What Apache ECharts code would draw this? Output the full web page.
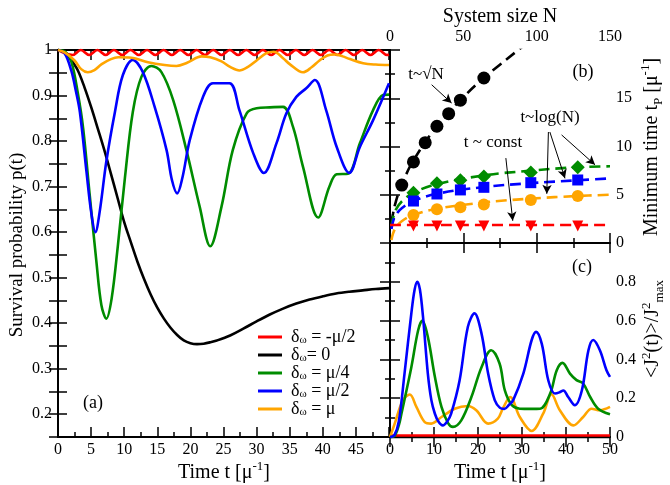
<!DOCTYPE html>
<html><head><meta charset="utf-8">
<script src="https://cdn.jsdelivr.net/npm/echarts@6/dist/echarts.min.js"></script>
<style>html,body{margin:0;padding:0;background:#fff}#c{width:670px;height:485px}</style>
</head><body><div id="c"></div>
<script>
const FONT = '"Liberation Serif", "DejaVu Serif", "Times New Roman", serif';
const COLORS = {red:'#ff0000', black:'#000000', green:'#008c00', blue:'#0000ff', orange:'#ffa500'};
const legendNames = ['-μ/2', '0', 'μ/4', 'μ/2', 'μ'];

// ---------- Panel (a): survival probability p(t) vs t ----------
const redA = [[0,1],[2.2,0.989],[3.45,1],[4.7,0.989],[5.95,1],[7.2,0.989],[8.45,1],[9.7,0.989],[10.95,1],[12.2,0.989],[13.45,1],[14.7,0.989],[15.95,1],[17.2,0.989],[18.45,1],[19.7,0.989],[20.95,1],[22.2,0.989],[23.45,1],[24.7,0.989],[25.95,1],[27.2,0.989],[28.45,1],[29.7,0.989],[30.95,1],[32.2,0.989],[33.45,1],[34.7,0.989],[35.95,1],[37.2,0.989],[38.45,1],[39.7,0.989],[40.95,1],[42.2,0.989],[43.45,1],[44.7,0.989],[45.95,1],[47.2,0.989],[48.45,1],[49.7,0.989],[50,0.99]];
const blackA = [[0,1],[1,0.995],[2,0.978],[3,0.955],[4,0.918],[5,0.875],[6,0.828],[7,0.78],[8,0.728],[9,0.675],[10,0.622],[11,0.578],[12,0.535],[13,0.497],[14,0.463],[15,0.434],[16,0.41],[17,0.39],[18,0.374],[19,0.362],[20,0.356],[21,0.354],[22,0.355],[23,0.358],[24,0.362],[26,0.373],[28,0.388],[30,0.404],[32,0.419],[34,0.432],[36,0.443],[38,0.452],[40,0.459],[42,0.465],[44,0.469],[46,0.472],[48,0.475],[50,0.477]];
const greenA = [[0,1],[1,0.997],[2,0.975],[3,0.905],[3.8,0.828],[4.8,0.68],[5.8,0.535],[6.55,0.44],[7.3,0.41],[8.1,0.454],[9.05,0.571],[10.1,0.718],[11.3,0.864],[12.6,0.941],[14.1,0.965],[15.6,0.952],[17.4,0.89],[19.4,0.78],[21.4,0.656],[23,0.569],[24.7,0.656],[26.4,0.78],[28.5,0.861],[30,0.872],[32,0.874],[34,0.875],[35.5,0.831],[37,0.744],[39.3,0.632],[41,0.70],[42.1,0.727],[43.8,0.728],[45.6,0.795],[47.6,0.868],[49.1,0.901],[50,0.902]];
const blueA = [[0,1],[1,0.993],[2,0.955],[2.7,0.91],[3.3,0.864],[4.3,0.733],[5.0,0.645],[5.65,0.60],[6.3,0.645],[7.3,0.755],[8.6,0.864],[9.8,0.945],[11.3,0.978],[12.8,0.952],[14.6,0.875],[16.4,0.78],[17.2,0.715],[18,0.685],[18.8,0.72],[19.9,0.802],[21.9,0.897],[23.4,0.927],[25.9,0.927],[27.4,0.868],[29.5,0.773],[31.1,0.73],[33,0.795],[34.5,0.861],[36,0.897],[37.5,0.916],[38.8,0.934],[40.5,0.868],[42.1,0.787],[44,0.73],[45.6,0.787],[47.6,0.846],[50,0.927]];
const orangeA = [[0,1],[1,0.995],[2.5,0.977],[3.5,0.958],[4.5,0.951],[5.5,0.956],[6.6,0.969],[8,0.98],[9.1,0.984],[11.1,0.983],[13.6,0.973],[16.1,0.967],[17.9,0.965],[19.5,0.972],[21.7,0.986],[23,0.984],[24.7,0.975],[26,0.963],[27.4,0.955],[28.7,0.963],[30,0.977],[31.5,0.993],[32.6,0.996],[34,0.982],[35,0.969],[37,0.951],[38.3,0.962],[39.5,0.977],[40.7,0.988],[41.8,0.99],[43,0.986],[44.1,0.98],[46.1,0.971],[48,0.968],[50,0.967]];

// ---------- Panel (b): minimum time t_P vs system size N ----------
const sizesSqrt = [8, 16, 24, 32, 40, 48, 64];
const blackB = [6.0, 8.4, 10.4, 12.1, 13.4, 14.8, 17.1];
const sizesLog = [16, 32, 48, 64, 96, 128];
const greenB = [5.2, 6.2, 6.5, 6.9, 7.3, 7.85];
const blueB = [4.35, 5.08, 5.5, 5.77, 6.25, 6.53];
const orangeB = [2.9, 3.49, 3.7, 4.0, 4.46, 4.87];
const redB = [1.75, 1.75, 1.75, 1.75, 1.75, 1.75];
// fitted curves (dashed)
const blackFit = [[1,2.1],[2,3.0],[4,4.3],[8,6.05],[16,8.55],[32,12.1],[48,14.8],[64,17.1],[90,20.3]];
const greenFit = [[1,1.7],[2,2.55],[4,3.45],[8,4.3],[16,5.2],[32,6.1],[64,7.0],[96,7.5],[128,7.85],[150,7.95]];
const blueFit = [[1,1.45],[2,2.2],[4,2.9],[8,3.6],[16,4.35],[32,5.1],[64,5.8],[96,6.2],[128,6.5],[150,6.7]];
const orangeFit = [[1,0.3],[2,0.95],[4,1.6],[8,2.25],[16,2.9],[32,3.55],[64,4.2],[96,4.6],[128,4.87],[150,5.0]];
const redFit = [[0,1.87],[150,1.87]];

// ---------- Panel (c): <J^2(t)>/J^2_max vs t ----------
const blueC = [[0,0],[1,0.01],[2,0.08],[3.3,0.327],[4.85,0.637],[5.6,0.76],[6.2,0.80],[6.8,0.76],[7.5,0.62],[8.6,0.327],[9.4,0.19],[10.2,0.12],[11,0.08],[12,0.06],[13,0.08],[13.9,0.12],[15.8,0.29],[17.7,0.568],[19.2,0.637],[20.8,0.533],[22.3,0.327],[23.8,0.19],[25,0.15],[26,0.145],[27,0.165],[28,0.19],[30.3,0.327],[32.2,0.50],[33.2,0.542],[34.5,0.48],[36,0.29],[37.5,0.224],[38.5,0.23],[39.4,0.24],[40.5,0.206],[42,0.164],[43.6,0.24],[45.1,0.447],[46.2,0.50],[47.7,0.447],[49.2,0.344],[50,0.31]];
const greenC = [[0,0],[1,0.005],[2,0.06],[2.6,0.12],[4.85,0.36],[6.4,0.55],[7.35,0.60],[8.6,0.516],[10.2,0.31],[11.7,0.155],[13.2,0.072],[14.3,0.052],[16.2,0.086],[18.5,0.206],[20.8,0.36],[23,0.447],[24.9,0.379],[26.1,0.24],[27.7,0.164],[29.5,0.146],[32,0.145],[34.1,0.146],[36.4,0.224],[37.9,0.344],[39.2,0.382],[40.9,0.327],[42.4,0.293],[43.9,0.276],[45.5,0.206],[47.3,0.146],[50,0.117]];
const orangeC = [[0,0],[1.07,0.069],[2.95,0.19],[4.5,0.219],[6,0.155],[7.9,0.077],[9.4,0.069],[11.7,0.103],[14.7,0.146],[17.7,0.16],[19.6,0.138],[22.3,0.069],[24.5,0.095],[25.7,0.15],[27.3,0.206],[29.5,0.103],[32.2,0.031],[34.8,0.12],[36.7,0.22],[38.6,0.138],[41.7,0.06],[43.9,0.103],[45.8,0.146],[47.7,0.138],[50,0.155]];
const blackC = [[0,0],[50,0]];
const redC = [[0,0.008],[50,0.008]];

// ---------- tick labels ----------
const ticksA = {xMin:0, xMax:50, xStep:5, yMin:0.15, yMax:1, yStep:0.05};
const ticksB = {xMin:0, xMax:150, xStep:50, yMin:0, yMax:20, yStep:5};
const ticksC = {xMin:0, xMax:50, xStep:10, yMin:0, yMax:1, yStep:0.2};

const chart = echarts.init(document.getElementById('c'), null, {renderer:'canvas'});

const axisLineStyle = {show:true, lineStyle:{color:'#000', width:2}};
function ax(o) {
  return {
    type:'value', gridIndex:o.grid, position:o.pos, min:o.min, max:o.max, interval:o.step,
    splitLine:{show:false},
    axisLine:axisLineStyle,
    axisTick:{show:true, inside:true, length:o.tl || 10, lineStyle:{color:'#000', width:1.5}},
    minorTick:{show:!!o.minor, splitNumber:o.minor || 5, length:o.ml || 5, lineStyle:{color:'#000', width:1.5}},
    axisLabel:{show:!!o.labels, color:'#000', fontFamily:FONT, fontSize:16, margin:o.margin || 6,
      formatter:o.fmt || (v => String(v))},
    name:''
  };
}

const fmtA_y = v => (Math.abs(v*10 - Math.round(v*10)) < 1e-6) ? String(Math.round(v*10)/10) : '';
const fmtA_x = v => (v >= 50 ? '' : String(v));
const fmtB_y = v => (v >= 20 ? '' : String(v));
const fmtC_y = v => (v >= 0.99 ? '' : String(Math.round(v*10)/10));

const xAxis = [
  ax({grid:0,pos:'bottom',min:ticksA.xMin,max:ticksA.xMax,step:ticksA.xStep,minor:2,labels:true,fmt:fmtA_x,margin:5}),
  ax({grid:0,pos:'top',min:ticksA.xMin,max:ticksA.xMax,step:ticksA.xStep,minor:2}),
  ax({grid:1,pos:'top',min:ticksB.xMin,max:ticksB.xMax,step:ticksB.xStep,minor:2,labels:true,margin:5}),
  ax({grid:1,pos:'bottom',min:ticksB.xMin,max:ticksB.xMax,step:ticksB.xStep,minor:2}),
  ax({grid:2,pos:'bottom',min:ticksC.xMin,max:ticksC.xMax,step:ticksC.xStep,minor:2,labels:true,margin:5}),
  ax({grid:2,pos:'top',min:ticksC.xMin,max:ticksC.xMax,step:ticksC.xStep,minor:2})
];
const yAxis = [
  ax({grid:0,pos:'left',min:ticksA.yMin,max:ticksA.yMax,step:ticksA.yStep,labels:true,fmt:fmtA_y,tl:9}),
  ax({grid:0,pos:'right',min:ticksA.yMin,max:ticksA.yMax,step:ticksA.yStep,tl:9}),
  ax({grid:1,pos:'right',min:ticksB.yMin,max:ticksB.yMax,step:ticksB.yStep,minor:2,labels:true,fmt:fmtB_y}),
  ax({grid:1,pos:'left',min:ticksB.yMin,max:ticksB.yMax,step:ticksB.yStep,minor:2}),
  ax({grid:2,pos:'right',min:ticksC.yMin,max:ticksC.yMax,step:ticksC.yStep,minor:2,labels:true,fmt:fmtC_y}),
  ax({grid:2,pos:'left',min:ticksC.yMin,max:ticksC.yMax,step:ticksC.yStep,minor:2})
];

function line(name, data, color, xi, yi, extra) {
  return Object.assign({
    type:'line', name:name, data:data, xAxisIndex:xi, yAxisIndex:yi,
    smooth:0.35, symbol:'none', showSymbol:false, clip:false,
    lineStyle:{color:color, width:2.6}, itemStyle:{color:color}, z:3
  }, extra || {});
}
function dashed(name, data, color) {
  return {type:'line', name:name, data:data, xAxisIndex:2, yAxisIndex:2, smooth:0.4, symbol:'none', showSymbol:false, clip:true,
    lineStyle:{color:color, width:2.6, type:[11,6]}, itemStyle:{color:color}, z:3};
}
function markers(name, xs, ys, color, symbol, size) {
  return {type:'scatter', name:name, data:xs.map((x,i)=>[x, ys[i]]), xAxisIndex:2, yAxisIndex:2,
    symbol:symbol, symbolSize:size, itemStyle:{color:color, opacity:1}, clip:false, z:4};
}

const arrowData = [
  [{coord:[28.4,16.4]},{coord:[42,14.5]}],
  [{coord:[108,11.5]},{coord:[106.9,5.1]}],
  [{coord:[109,11.5]},{coord:[119.3,6.7]}],
  [{coord:[117,11.2]},{coord:[139.8,8.1]}],
  [{coord:[79,8.8]},{coord:[83.7,2.3]}]
];

const series = [
  line(legendNames[0], redA, COLORS.red, 0, 0),
  line(legendNames[1], blackA, COLORS.black, 0, 0),
  line(legendNames[2], greenA, COLORS.green, 0, 0),
  line(legendNames[3], blueA, COLORS.blue, 0, 0),
  line(legendNames[4], orangeA, COLORS.orange, 0, 0),
  Object.assign(dashed(legendNames[1], blackFit, COLORS.black), {markLine:{silent:true, symbol:['none','arrow'], symbolSize:[7,9],
    lineStyle:{color:'#000', width:1, type:'solid'}, label:{show:false}, data:arrowData, animation:false}}),
  dashed(legendNames[2], greenFit, COLORS.green),
  dashed(legendNames[3], blueFit, COLORS.blue),
  dashed(legendNames[4], orangeFit, COLORS.orange),
  dashed(legendNames[0], redFit, COLORS.red),
  markers(legendNames[1], sizesSqrt, blackB, COLORS.black, 'circle', 13),
  markers(legendNames[2], sizesLog, greenB, COLORS.green, 'diamond', 14),
  markers(legendNames[3], sizesLog, blueB, COLORS.blue, 'rect', 11),
  markers(legendNames[4], sizesLog, orangeB, COLORS.orange, 'circle', 12),
  markers(legendNames[0], sizesLog, redB, COLORS.red, 'path://M0,0 L10,0 L5,9 Z', 11),
  line(legendNames[1], blackC, COLORS.black, 4, 4),
  line(legendNames[0], redC, COLORS.red, 4, 4),
  line(legendNames[4], orangeC, COLORS.orange, 4, 4),
  line(legendNames[2], greenC, COLORS.green, 4, 4),
  line(legendNames[3], blueC, COLORS.blue, 4, 4)
];

const richBase = {
  n:{fontFamily:FONT, fontSize:20, lineHeight:26, color:'#000'},
  sup:{fontFamily:FONT, fontSize:13, lineHeight:13, verticalAlign:'top', color:'#000'},
  sub:{fontFamily:FONT, fontSize:13, lineHeight:13, verticalAlign:'bottom', color:'#000'}
};
function txt(x, y, text, size, rot, rich) {
  return {type:'text', x:x, y:y, rotation:rot || 0, z:10,
    style:{text:text, fontFamily:FONT, fontSize:size, fill:'#000', align:'center', verticalAlign:'middle', rich:rich}};
}

const option = {
  animation:false,
  backgroundColor:'#fff',
  grid:[
    {left:58, top:50, width:331, height:387},
    {left:390, top:50, width:220, height:193},
    {left:390, top:243, width:220, height:194}
  ],
  xAxis:xAxis, yAxis:yAxis,
  legend:{
    data:legendNames, orient:'vertical', left:258, top:328, itemWidth:24, itemHeight:3, itemGap:0,
    selectedMode:false, icon:'rect', padding:0,
    formatter: n => '{d|δ}{s|ω}{t|' + (n === '0' ? '= 0' : ' = ' + n) + '}',
    textStyle:{color:'#000', lineHeight:17, rich:{
      d:{fontFamily:FONT, fontSize:18, lineHeight:17, padding:[0,0,0,4]},
      s:{fontFamily:FONT, fontSize:11, lineHeight:11, verticalAlign:'bottom'},
      t:{fontFamily:FONT, fontSize:18, lineHeight:17}
    }}
  },
  series:series,
  graphic:[
    txt(500, 17, 'System size N', 20),
    txt(224, 473, '{n|Time t [μ}{sup|-1}{n|]}', 20, 0, richBase),
    txt(500, 473, '{n|Time t [μ}{sup|-1}{n|]}', 20, 0, richBase),
    txt(17, 245, 'Survival probability p(t)', 19, Math.PI/2),
    txt(652, 147, '{n|Minimum time t}{sub|P}{n| [μ}{sup|-1}{n|]}', 19, Math.PI/2, richBase),
    txt(653, 329, '{n|<J}{sup|2}{n|(t)>/J}{sup|2}{sub|max}', 19, Math.PI/2, richBase),
    txt(93, 403, '(a)', 18),
    txt(583, 72, '(b)', 18),
    txt(582, 267, '(c)', 18),
    txt(426, 75, 't~√N', 17),
    txt(550, 118, 't~log(N)', 17),
    txt(493, 143, 't ~ const', 17)
  ]
};
chart.setOption(option);
</script></body></html>
